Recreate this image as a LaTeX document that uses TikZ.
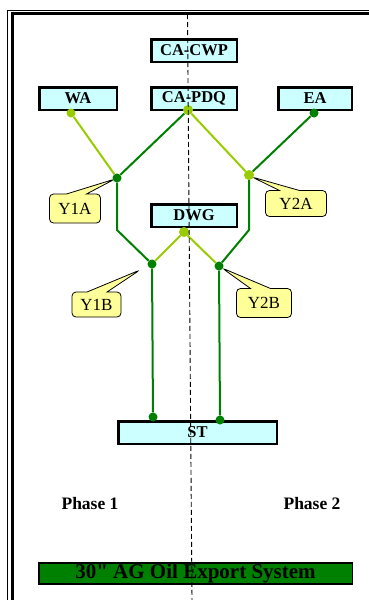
\documentclass[tikz,border=0pt]{standalone}
\usepackage{fontspec}
\setmainfont{Liberation Serif}
\newfontfamily\barfont{Liberation Serif}
\usetikzlibrary{shapes.callouts}
\definecolor{boxcyan}{HTML}{CCFFFF}
\definecolor{pipedark}{HTML}{008000}
\definecolor{pipelight}{HTML}{99CC00}
\definecolor{noteyellow}{HTML}{FFFF99}
\tikzset{
  unit/.style={draw,line width=2.5pt,fill=boxcyan,minimum width=#1,minimum height=22.5pt,
    inner sep=0pt,font=\fontsize{16.5}{19}\selectfont\bfseries},
  unit/.default=85.5pt,
  tap/.style={circle,fill=#1,inner sep=0pt,minimum size=9pt},
  tag/.style={rectangle callout,draw,line width=0.8pt,fill=noteyellow,rounded corners=4pt,
    callout pointer width=20pt,inner sep=0pt,font=\fontsize{17}{20}\selectfont},
  hi/.style={draw=pipelight,line width=2pt},
  lo/.style={draw=pipedark,line width=2pt},
}
\begin{document}
\begin{tikzpicture}[x=1pt,y=-1pt]
\useasboundingbox (0,0) rectangle (368,600);
% frame
\draw[line width=1pt] (7,605) -- (7,10) -- (372,10);
\draw[line width=3pt] (12.5,605) -- (12.5,13.5) -- (372,13.5);
% units
\node[unit] (CWP) at (194,50.5) {CA-CWP};
\node[unit=77.5pt] (WA) at (78,98.5) {WA};
\node[unit] (PDQ) at (194,98.5) {CA-PDQ};
\node[unit=73.5pt] (EA) at (315,98.5) {EA};
\node[unit] (DWG) at (194,215.5) {DWG};
\node[unit=158.5pt] (ST) at (197.5,432.5) {ST};
% labels
\coordinate (p1) at (115,179);
\coordinate (p2) at (252,177);
\coordinate (p3) at (140,270);
\coordinate (p4) at (222,268);
\node[tag,callout absolute pointer={(p1)},minimum width=51pt,minimum height=29pt] (tag1) at (75,208.5) {Y1A};
\node[tag,callout absolute pointer={(p2)},minimum width=61pt,minimum height=26pt] (tag2) at (296,203.5) {Y2A};
\node[tag,callout absolute pointer={(p3)},minimum width=49pt,minimum height=25pt] (tag3) at (96.5,304.5) {Y1B};
\node[tag,callout absolute pointer={(p4)},minimum width=55pt,minimum height=29pt] (tag4) at (264,303) {Y2B};
% junctions
\node[tap=pipelight] (wa-out) at (71,113) {};
\node[tap=pipelight,minimum size=10pt] (pdq-out) at (188,110) {};
\node[tap=pipedark] (ea-out) at (314,113) {};
\node[tap=pipedark] (Y1A) at (117,178) {};
\node[tap=pipelight,minimum size=10pt] (Y2A) at (249,175) {};
\node[tap=pipelight,minimum size=10pt] (dwg-out) at (184,232) {};
\node[tap=pipedark] (Y1B) at (152,264) {};
\node[tap=pipedark] (Y2B) at (219,266) {};
\node[tap=pipedark] (st-in1) at (153,417) {};
\node[tap=pipedark] (st-in2) at (220,420) {};
\coordinate (k1) at (117,230);
\coordinate (k2) at (249,230);
% pipes
\path
  (wa-out) edge[hi] (Y1A)
  (pdq-out) edge[lo] (Y1A)
  (pdq-out) edge[hi] (Y2A)
  (ea-out) edge[lo] (Y2A)
  (dwg-out) edge[hi] (Y1B)
  (dwg-out) edge[hi] (Y2B)
  (Y1B) edge[lo] (st-in1)
  (Y2B) edge[lo] (st-in2)
;
\draw[lo] (Y1A) -- (k1) -- (Y1B);
\draw[lo] (Y2A) -- (k2) -- (Y2B);
% phases
\node[font=\fontsize{17.5}{20}\selectfont\bfseries] (ph1) at (90,504) {Phase 1};
\node[font=\fontsize{17.5}{20}\selectfont\bfseries] (ph2) at (312,504) {Phase 2};
\node[draw,line width=1.5pt,fill=pipedark,minimum width=313.5pt,minimum height=21pt,inner sep=0pt,
  font=\barfont\fontsize{21}{22}\selectfont\bfseries] (bar) at (195.5,573.5) {30" AG Oil Export System};
% split
\coordinate (s-top) at (187.5,14);
\coordinate (s-bot) at (192,600);
\draw[line width=0.9pt,dash pattern=on 5pt off 3pt] (s-top) -- (s-bot);
\end{tikzpicture}
\end{document}
